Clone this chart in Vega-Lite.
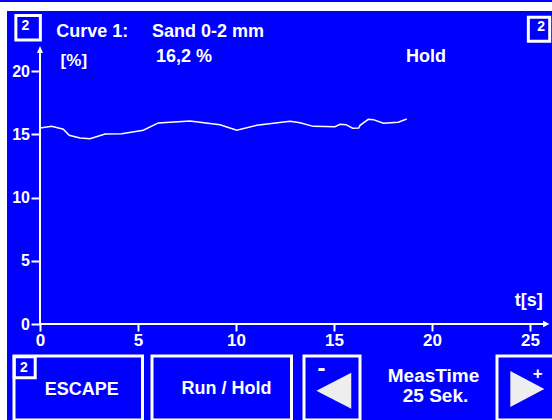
{
  "$schema": "https://vega.github.io/schema/vega-lite/v6.json",
  "background": "#0000ff",
  "padding": 0,
  "bounds": "flush",
  "spacing": 0,
  "config": {
    "view": {"stroke": null},
    "concat": {"spacing": 0},
    "axis": {"labelFont": "Liberation Sans", "labelFontWeight": "bold", "labelColor": "white", "tickColor": "white", "domain": false, "grid": false, "title": null},
    "text": {"font": "Liberation Sans", "fontWeight": "bold", "color": "white"}
  },
  "datasets": {
    "curve": [
      {"t": 0, "v": 15.51}, {"t": 0.6, "v": 15.64}, {"t": 1.19, "v": 15.41}, {"t": 1.49, "v": 14.93},
      {"t": 2.04, "v": 14.72}, {"t": 2.55, "v": 14.66}, {"t": 3.32, "v": 15.04}, {"t": 4.17, "v": 15.06},
      {"t": 5.27, "v": 15.33}, {"t": 6.04, "v": 15.91}, {"t": 7.65, "v": 16.06}, {"t": 9.18, "v": 15.77},
      {"t": 10.04, "v": 15.33}, {"t": 11.06, "v": 15.72}, {"t": 12.76, "v": 16.04}, {"t": 13.27, "v": 15.93},
      {"t": 13.94, "v": 15.64}, {"t": 15.05, "v": 15.61}, {"t": 15.31, "v": 15.8}, {"t": 15.61, "v": 15.77},
      {"t": 15.95, "v": 15.49}, {"t": 16.26, "v": 15.51}, {"t": 16.33, "v": 15.72}, {"t": 16.75, "v": 16.2},
      {"t": 17.01, "v": 16.17}, {"t": 17.52, "v": 15.88}, {"t": 18.28, "v": 15.96}, {"t": 18.71, "v": 16.22}
    ]
  },
  "vconcat": [
    {"width": 552, "height": 9, "view": {"fill": "white", "stroke": null}, "data": {"values": [{}]}, "mark": {"type": "text"}, "encoding": {"text": {"value": ""}}},
    {
      "spacing": 0, "bounds": "flush",
      "hconcat": [
        {"width": 7, "height": 411, "view": {"fill": "white", "stroke": null}, "data": {"values": [{}]}, "mark": {"type": "text"}, "encoding": {"text": {"value": ""}}},
        {
          "spacing": 0, "bounds": "flush",
          "vconcat": [
            {
              "width": 545, "height": 345,
              "layer": [
                {
                  "data": {"name": "curve"},
                  "mark": {"type": "line", "color": "white", "strokeWidth": 1.5},
                  "encoding": {
                    "x": {"field": "t", "type": "quantitative", "scale": {"domain": [-1.684, 26.122], "nice": false, "zero": false},
                          "axis": {"orient": "bottom", "offset": -32, "values": [0, 5, 10, 15, 20, 25], "tickSize": 7, "tickWidth": 2, "labelFontSize": 17, "labelPadding": 1.5, "labelFlush": false, "labelOverlap": false, "title": null}},
                    "y": {"field": "v", "type": "quantitative", "scale": {"domain": [-2.532, 24.768], "nice": false, "zero": false},
                          "axis": {"orient": "left", "offset": -33, "values": [0, 5, 10, 15, 20], "tickSize": 9, "tickWidth": 2, "labelFontSize": 16, "labelPadding": 1.5, "labelFlush": false, "labelOverlap": false, "title": null}}
                  }
                },
                {"data": {"values": [{"axis": "y"}]}, "mark": {"type": "rule", "color": "white", "strokeWidth": 2}, "encoding": {"x": {"datum": 0}, "y": {"datum": 0}, "y2": {"datum": 21.68}}},
                {"data": {"values": [{"axis": "x"}]}, "mark": {"type": "rule", "color": "white", "strokeWidth": 2}, "encoding": {"y": {"datum": 0}, "x": {"datum": 0}, "x2": {"datum": 25.71}}},
                {"data": {"values": [{"axis": "y"}]}, "mark": {"type": "point", "shape": "M0,-1.17L1,1.17L-1,1.17Z", "filled": true, "color": "white", "opacity": 1, "size": 36}, "encoding": {"x": {"datum": 0}, "y": {"datum": 21.72}}},
                {"data": {"values": [{"axis": "x"}]}, "mark": {"type": "point", "shape": "M1,0L-1,-1L-1,1Z", "filled": true, "color": "white", "opacity": 1, "size": 40}, "encoding": {"x": {"datum": 25.83}, "y": {"datum": 0}}},
                {"data": {"values": [{"label": "Curve 1:"}]}, "mark": {"type": "text", "align": "left", "baseline": "alphabetic", "fontSize": 18}, "encoding": {"x": {"datum": 0.831}, "y": {"datum": 22.71}, "text": {"field": "label"}}},
                {"data": {"values": [{"label": "Sand 0-2 mm"}]}, "mark": {"type": "text", "align": "left", "baseline": "alphabetic", "fontSize": 18}, "encoding": {"x": {"datum": 5.713}, "y": {"datum": 22.71}, "text": {"field": "label"}}},
                {"data": {"values": [{"label": "16,2 %"}]}, "mark": {"type": "text", "align": "left", "baseline": "alphabetic", "fontSize": 18}, "encoding": {"x": {"datum": 5.917}, "y": {"datum": 20.77}, "text": {"field": "label"}}},
                {"data": {"values": [{"label": "[%]"}]}, "mark": {"type": "text", "align": "left", "baseline": "alphabetic", "fontSize": 17}, "encoding": {"x": {"datum": 1.051}, "y": {"datum": 20.43}, "text": {"field": "label"}}},
                {"data": {"values": [{"label": "Hold"}]}, "mark": {"type": "text", "align": "left", "baseline": "alphabetic", "fontSize": 18}, "encoding": {"x": {"datum": 18.67}, "y": {"datum": 20.77}, "text": {"field": "label"}}},
                {"data": {"values": [{"label": "t[s]"}]}, "mark": {"type": "text", "align": "center", "baseline": "alphabetic", "fontSize": 18}, "encoding": {"x": {"datum": 24.93}, "y": {"datum": 1.385}, "text": {"field": "label"}}},
                {"data": {"values": [{"label": "2"}]}, "mark": {"type": "point", "shape": "square", "filled": false, "color": "white", "strokeWidth": 3, "opacity": 1, "size": 600}, "encoding": {"x": {"datum": -0.607}, "y": {"datum": 23.45}}},
                {"data": {"values": [{"label": "2"}]}, "mark": {"type": "text", "align": "center", "baseline": "alphabetic", "fontSize": 14}, "encoding": {"x": {"datum": -0.74}, "y": {"datum": 23.24}, "text": {"field": "label"}}},
                {"data": {"values": [{"label": "2"}]}, "mark": {"type": "point", "shape": "M-0.89,-1L0.89,-1L0.89,1L-0.89,1Z", "filled": false, "color": "white", "strokeWidth": 3, "opacity": 1, "size": 576}, "encoding": {"x": {"datum": 25.46}, "y": {"datum": 23.33}}},
                {"data": {"values": [{"label": "2"}]}, "mark": {"type": "text", "align": "center", "baseline": "alphabetic", "fontSize": 14}, "encoding": {"x": {"datum": 25.57}, "y": {"datum": 23.16}, "text": {"field": "label"}}}
              ]
            },
            {
              "spacing": 0, "bounds": "flush",
              "hconcat": [
                {"width": 7, "height": 64, "data": {"values": [{}]}, "mark": {"type": "text"}, "encoding": {"text": {"value": ""}}},
                {
                  "width": 128.5, "height": 64, "view": {"stroke": "white", "strokeWidth": 3},
                  "layer": [
                    {"data": {"values": [{"label": "ESCAPE"}]}, "mark": {"type": "text", "fontSize": 18, "baseline": "middle", "dx": 3.5, "dy": 2.4}, "encoding": {"text": {"field": "label"}}},
                    {"data": {"values": [{"label": "2"}]}, "mark": {"type": "point", "shape": "square", "filled": false, "color": "white", "strokeWidth": 3, "opacity": 1, "size": 441},
                     "encoding": {"x": {"datum": 0.0833, "scale": {"domain": [0, 1], "nice": false}, "axis": null}, "y": {"datum": 0.823, "scale": {"domain": [0, 1], "nice": false}, "axis": null}}},
                    {"data": {"values": [{"label": "2"}]}, "mark": {"type": "text", "fontSize": 14, "align": "center", "baseline": "alphabetic"},
                     "encoding": {"x": {"datum": 0.0763}, "y": {"datum": 0.75}, "text": {"field": "label"}}}
                  ]
                },
                {"width": 9, "height": 64, "data": {"values": [{}]}, "mark": {"type": "text"}, "encoding": {"text": {"value": ""}}},
                {
                  "width": 139.5, "height": 64, "view": {"stroke": "white", "strokeWidth": 3},
                  "data": {"values": [{"label": "Run / Hold"}]},
                  "mark": {"type": "text", "fontSize": 18, "baseline": "middle", "dx": 4.7, "dy": 1.4},
                  "encoding": {"text": {"field": "label"}}
                },
                {"width": 11.5, "height": 64, "data": {"values": [{}]}, "mark": {"type": "text"}, "encoding": {"text": {"value": ""}}},
                {
                  "width": 56, "height": 64, "view": {"stroke": "white", "strokeWidth": 3},
                  "layer": [
                    {"data": {"values": [{"label": "◄"}]}, "mark": {"type": "point", "shape": "M-0.87,0.15L1.07,-0.85L1.07,1.15Z", "filled": true, "color": "#eeeeee", "opacity": 1, "size": 1296}, "encoding": {}},
                    {"data": {"values": [{"label": "-"}]}, "mark": {"type": "text", "fontSize": 24, "baseline": "middle", "dx": -10.5, "dy": -19.5}, "encoding": {"text": {"field": "label"}}}
                  ]
                },
                {
                  "width": 137, "height": 64,
                  "layer": [
                    {"data": {"values": [{"label": "MeasTime"}]}, "mark": {"type": "text", "fontSize": 19, "baseline": "middle", "dx": 5, "dy": -11.6}, "encoding": {"text": {"field": "label"}}},
                    {"data": {"values": [{"label": "25 Sek."}]}, "mark": {"type": "text", "fontSize": 19, "baseline": "middle", "dx": 7, "dy": 8.4}, "encoding": {"text": {"field": "label"}}}
                  ]
                },
                {
                  "width": 56.5, "height": 64, "view": {"stroke": "white", "strokeWidth": 3},
                  "layer": [
                    {"data": {"values": [{"label": "►"}]}, "mark": {"type": "point", "shape": "M-0.83,-0.94L1.06,0.06L-0.83,1.06Z", "filled": true, "color": "#eeeeee", "opacity": 1, "size": 1296}, "encoding": {}},
                    {"data": {"values": [{"label": "+"}]}, "mark": {"type": "text", "fontSize": 17, "baseline": "middle", "dx": 12.5, "dy": -14.5}, "encoding": {"text": {"field": "label"}}}
                  ]
                }
              ]
            }
          ]
        }
      ]
    }
  ]
}
